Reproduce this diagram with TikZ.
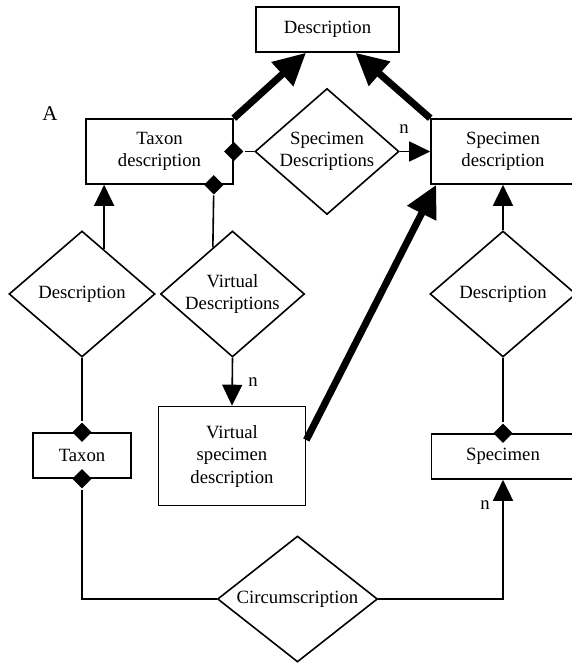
\documentclass[tikz,border=0pt]{standalone}
\usepackage{fontspec}
\setmainfont{Liberation Serif}
\usetikzlibrary{shapes.geometric,arrows.meta,calc}

\begin{document}
\begin{tikzpicture}[x=1pt, y=-1pt, line width=1.6pt,
  font=\fontsize{18.7}{22.5}\selectfont,
  entity/.style = {shape=rectangle, draw, align=center, inner sep=0pt},
  relation/.style = {shape=diamond, draw, align=center, inner sep=0pt, aspect=1.15},
  joint/.style = {shape=diamond, fill, inner sep=0pt, minimum size=20pt},
  card/.style = {inner sep=0pt}]
    \tikzstyle{link}=[-{Triangle[length=21pt,width=20pt]}]
    \tikzstyle{isa}=[line width=7pt, -{Triangle[length=32pt,width=31pt]}]
  \useasboundingbox (0,0) rectangle (572,663);
  % entities
  \node[entity, minimum width=143pt, minimum height=45pt] (desc) at (327.5,29.5) {Description};
  \node[entity, minimum width=147pt, minimum height=65pt] (taxdesc) at (159.5,151.5) {Taxon\\description};
  \node[entity, minimum width=144pt, minimum height=65pt] (specdesc) at (503,151.5) {Specimen\\description};
  \node[entity, minimum width=147pt, minimum height=99pt] (virtspec) at (232,456) {Virtual\\specimen\\description};
  \node[entity, minimum width=98pt, minimum height=45pt] (taxon) at (82,455.5) {Taxon};
  \node[entity, minimum width=143pt, minimum height=45pt] (specimen) at (503,456.5) {Specimen};
  % relations
  \node[relation, minimum width=144pt, minimum height=126pt] (specdescs) at (327,151.5) {Specimen\\Descriptions};
  \node[relation, minimum width=146pt, minimum height=126pt] (ldesc) at (82,294) {Description};
  \node[relation, minimum width=144pt, minimum height=126pt] (virtdescs) at (232.5,294) {Virtual\\Descriptions};
  \node[relation, minimum width=146pt, minimum height=126pt] (rdesc) at (503,294) {Description};
  \node[relation, minimum width=160pt, minimum height=126pt] (circ) at (297.5,599) {Circumscription};
  % joints
  \node[joint] (tdj1) at (taxdesc.east) {};
  \node[joint] (tdj2) at ([xshift=-20pt]taxdesc.south east) {};
  \node[joint] (txj1) at (taxon.north) {};
  \node[joint] (txj2) at (taxon.south) {};
  \node[joint] (spj) at (specimen.north) {};
  % labels
  \node[card, font=\fontsize{21}{25}\selectfont] (lblA) at (50,114) {A};
  \node[card] (n1) at (404,129) {n};
  \node[card] (n2) at (253,382) {n};
  \node[card] (n3) at (485,505) {n};
  \coordinate (lup) at ($(ldesc.north)!0.3!(ldesc.east)$);
  \coordinate (vup) at ($(virtdescs.north)!0.27!(virtdescs.west)$);
  % connectors
  \draw[isa] (taxdesc.north east) -- ([xshift=-21.5pt]desc.south);
  \draw[isa] (specdesc.north west) -- ([xshift=28pt]desc.south);
  \draw[isa] ([yshift=16pt]virtspec.east) -- ([xshift=6pt]specdesc.south west);
  \draw (tdj1) -- (specdescs.west);
  \draw[link] (specdescs.east) -- (specdesc.west);
  \draw (tdj2) -- (vup);
  \draw[link] (lup) -- (lup |- taxdesc.south);
  \draw[link] (virtdescs.south) -- (virtspec.north);
  \draw (ldesc.south) -- (txj1);
  \draw (txj2) |- (circ.west);
  \draw[link] (circ.east) -| (specimen.south);
  \draw[link] (rdesc.north) -- (specdesc.south);
  \draw (rdesc.south) -- (spj);
\end{tikzpicture}
\end{document}
